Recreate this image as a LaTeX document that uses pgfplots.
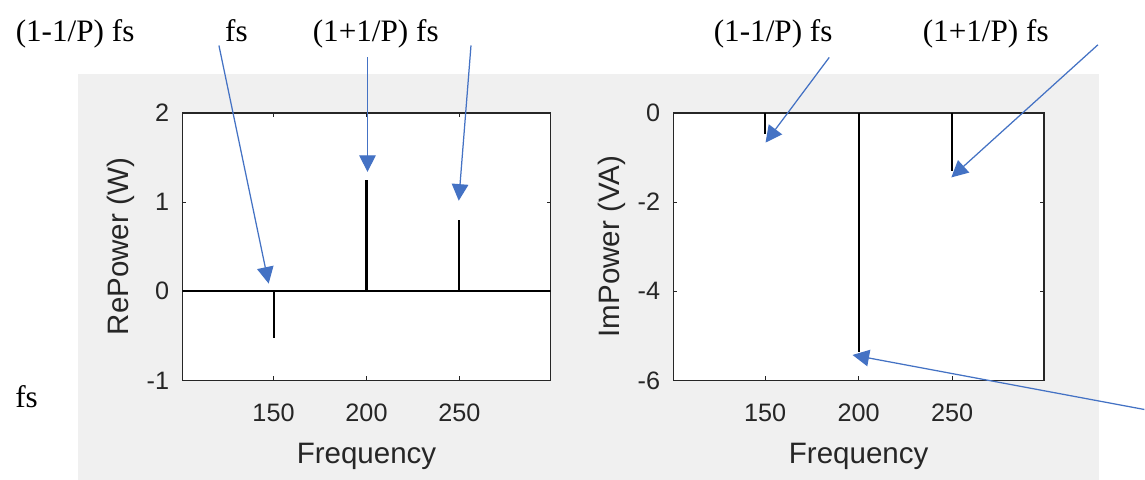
\documentclass[border=0pt]{standalone}
\usepackage{pgfplots}
\pgfplotsset{compat=1.18}
\usepackage{fontspec}
\usetikzlibrary{arrows.meta}
\newfontfamily\axfont{Liberation Sans}
\newfontfamily\anfont{Liberation Serif}
\definecolor{axgray}{HTML}{262626}
\definecolor{figgray}{HTML}{F0F0F0}
\definecolor{arrblue}{HTML}{4472C4}
\pgfplotsset{
  matstyle/.style={
    scale only axis,
    anchor=south west,
    height=269*0.6pt,
    xmin=101, xmax=299,
    xtick={150,200,250},
    tick align=inside,
    major tick length=2.4pt,
    axis line style={color=axgray, line width=1pt},
    every tick/.style={color=axgray, line width=0.5pt},
    axis background/.style={fill=white},
    /pgf/number format/assume math mode=true,
    tick label style={font=\axfont\fontsize{15.2}{18}\selectfont, text=axgray},
    xticklabel style={anchor=center, yshift=-32.5*0.6pt},
    yticklabel style={anchor=east, inner sep=0pt, xshift=-13*0.6pt},
    label style={font=\axfont\fontsize{17.8}{21}\selectfont, text=axgray},
    xlabel style={at={([yshift=-76*0.6pt]axis description cs:0.5,0)}, anchor=center},
    ylabel style={at={([xshift=-61.5*0.6pt]axis description cs:0,0.5)}, anchor=center},
    xlabel={Frequency},
  }
}
\begin{document}
\begin{tikzpicture}
\begin{scope}[x=0.6pt,y=-0.6pt]
  \useasboundingbox (0,0) rectangle (1145,482);
  \fill[white] (0,0) rectangle (1145,482);
  \fill[figgray] (78,74) rectangle (1104,482);
\end{scope}

\begin{axis}[matstyle,
  at={(183.3*0.6pt,-382.3*0.6pt)},
  width=370*0.6pt,
  ymin=-1, ymax=2, ytick={-1,0,1,2},
  ylabel={RePower (W)}]
  \addplot[black, line width=1pt] coordinates {(101,0) (299,0)};
  \addplot[ycomb, black, line width=1.2pt, mark=none] coordinates {(150,-0.52) (250,0.80)};
  \addplot[ycomb, black, line width=2.4pt, mark=none] coordinates {(200,1.25)};
\end{axis}

\begin{axis}[matstyle,
  at={(676.7*0.6pt,-382.3*0.6pt)},
  width=372.3*0.6pt,
  ymin=-6, ymax=0, ytick={-6,-4,-2,0},
  ylabel={ImPower (VA)}]
  \addplot[ycomb, black, line width=1.2pt, mark=none] coordinates {(150,-0.48) (200,-5.37) (250,-1.30)};
\end{axis}

\begin{scope}[x=0.6pt,y=-0.6pt]
  \tikzset{ann/.style={anchor=base west, inner sep=0pt, font=\anfont\fontsize{18.8}{22}\selectfont, text=black},
           arr/.style={arrblue, line width=0.75pt, -{Triangle[length=10pt, width=10pt]}}}
  \node[ann] at (15.5,42) {(1-1/P) fs};
  \node[ann] at (226,42) {fs};
  \node[ann] at (314,42) {(1+1/P) fs};
  \node[ann] at (717,42) {(1-1/P) fs};
  \node[ann] at (927,42) {(1+1/P) fs};
  \node[ann] at (15,409) {fs};
  \draw[arr] (220,45.7) -- (270,285);
  \draw[arr] (369.3,57.7) -- (369.3,172.7);
  \draw[arr] (473.3,45.7) -- (461,201.7);
  \draw[arr] (833.3,57.7) -- (769.3,143.3);
  \draw[arr] (1103.3,45) -- (956,178.3);
  \draw[arr] (1150,411.5) -- (856.7,356.7);
\end{scope}
\end{tikzpicture}
\end{document}
